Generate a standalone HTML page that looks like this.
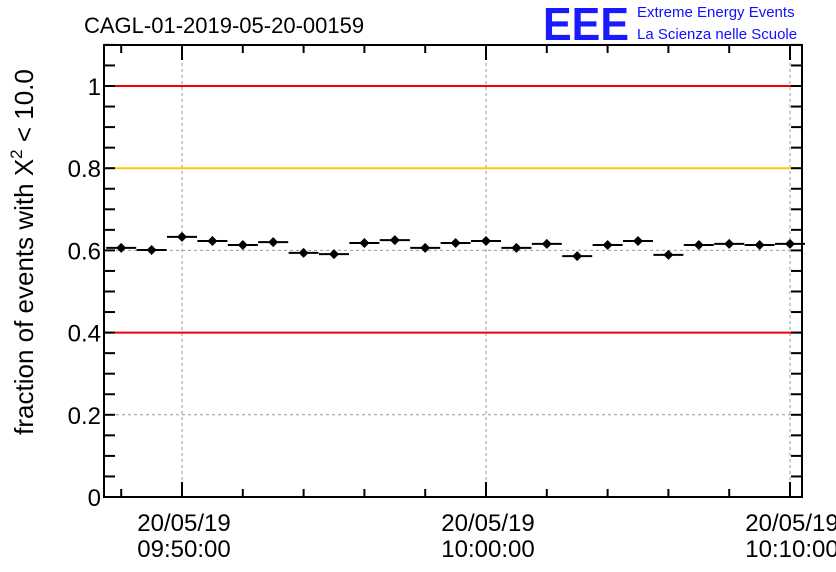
<!DOCTYPE html>
<html><head><meta charset="utf-8"><style>
body{margin:0;background:#fff;}
svg{display:block;font-family:"Liberation Sans",sans-serif;}
</style></head><body>
<svg id="c" width="836" height="572">
<text x="84" y="33" font-size="22">CAGL-01-2019-05-20-00159</text>
<g>
<text x="543" y="40" font-size="46" font-weight="bold" fill="#1a1aff" textLength="86" lengthAdjust="spacingAndGlyphs">EEE</text>
<text x="637" y="17" font-size="15" fill="#1010ff">Extreme Energy Events</text>
<text x="637" y="39" font-size="15" fill="#1010ff">La Scienza nelle Scuole</text>
</g>
<text transform="translate(33,252) rotate(-90)" text-anchor="middle" font-size="26">fraction of events with X<tspan dy="-11" font-size="17">2</tspan><tspan dy="11"> &lt; 10.0</tspan></text>
<g id="grid"></g><g id="ref"></g><g id="marks"></g><g id="axes"></g>
</svg>
<script>
const times=[48,49,50,51,52,53,54,55,56,57,58,59,60,61,62,63,64,65,66,67,68,69,70];
const values=[0.606,0.601,0.633,0.623,0.613,0.620,0.594,0.591,0.618,0.625,0.606,0.618,0.623,0.606,0.616,0.586,0.613,0.623,0.589,0.613,0.616,0.613,0.616];
const refLines=[1.0,0.8,0.4];
const refColors=['#f00000','#ffc800','#f00000'];
const yTicks=[0,0.2,0.4,0.6,0.8,1];
const yTickLabels=['0','0.2','0.4','0.6','0.8','1'];
const xTicks=[50,60,70];
const xTickLabels=[['20/05/19','09:50:00'],['20/05/19','10:00:00'],['20/05/19','10:10:00']];
const L=104,R=802,T=45,B=497;
const X=m=>182+(m-50)*30.4;
const Y=v=>B-v*411;
const NS='http://www.w3.org/2000/svg';
function mk(p,tag,a){const e=document.createElementNS(NS,tag);for(const k in a)e.setAttribute(k,a[k]);document.getElementById(p).appendChild(e);return e;}
xTicks.forEach(t=>{const e=mk('grid','line',{x1:X(t),x2:X(t),y1:T,y2:B,stroke:'#999','stroke-dasharray':'3,3'});

});
yTicks.slice(1,-1).forEach(t=>{const e=mk('grid','line',{x1:L,x2:R,y1:Y(t),y2:Y(t),stroke:'#999','stroke-dasharray':'3,3'});

});
refLines.forEach((v,i)=>{const e=mk('ref','line',{x1:L,x2:R,y1:Y(v),y2:Y(v),stroke:refColors[i],'stroke-width':2});

});
times.forEach((t,i)=>{
const g=mk('marks','g',{});


const x=X(t),y=Y(values[i]);
const l=document.createElementNS(NS,'line');l.setAttribute('x1',x-15);l.setAttribute('x2',x+15);l.setAttribute('y1',y);l.setAttribute('y2',y);l.setAttribute('stroke','#000');l.setAttribute('stroke-width',2);g.appendChild(l);
const c=document.createElementNS(NS,'path');c.setAttribute('d',`M${x} ${y-5}L${x+5} ${y}L${x} ${y+5}L${x-5} ${y}Z`);c.setAttribute('fill','#000');g.appendChild(c);
});
const fr=mk('axes','rect',{x:L,y:T,width:R-L,height:B-T,fill:'none',stroke:'#000','stroke-width':2});


for(let v=0;v<=1.1001;v+=0.05){const len=11;
mk('axes','line',{x1:L,x2:L+len,y1:Y(v),y2:Y(v),stroke:'#000','stroke-width':2});
mk('axes','line',{x1:R,x2:R-len,y1:Y(v),y2:Y(v),stroke:'#000','stroke-width':2});}
for(let m=48;m<=70;m+=2){const maj=(m%10===0);const len=maj?15:8;
mk('axes','line',{x1:X(m),x2:X(m),y1:B,y2:B-len,stroke:'#000','stroke-width':2});
mk('axes','line',{x1:X(m),x2:X(m),y1:T,y2:T+len,stroke:'#000','stroke-width':2});}
yTicks.forEach((t,i)=>{const e=mk('axes','text',{x:L-3,y:Y(t)+9,'text-anchor':'end','font-size':24});e.textContent=yTickLabels[i];

});
xTicks.forEach((t,i)=>{const e=mk('axes','text',{x:X(t)+2,y:531,'text-anchor':'middle','font-size':24});


xTickLabels[i].forEach((s,j)=>{const ts=document.createElementNS(NS,'tspan');ts.setAttribute('x',X(t)+2);ts.setAttribute('dy',j?26:0);ts.textContent=s;e.appendChild(ts);});});
</script>
</body></html>
